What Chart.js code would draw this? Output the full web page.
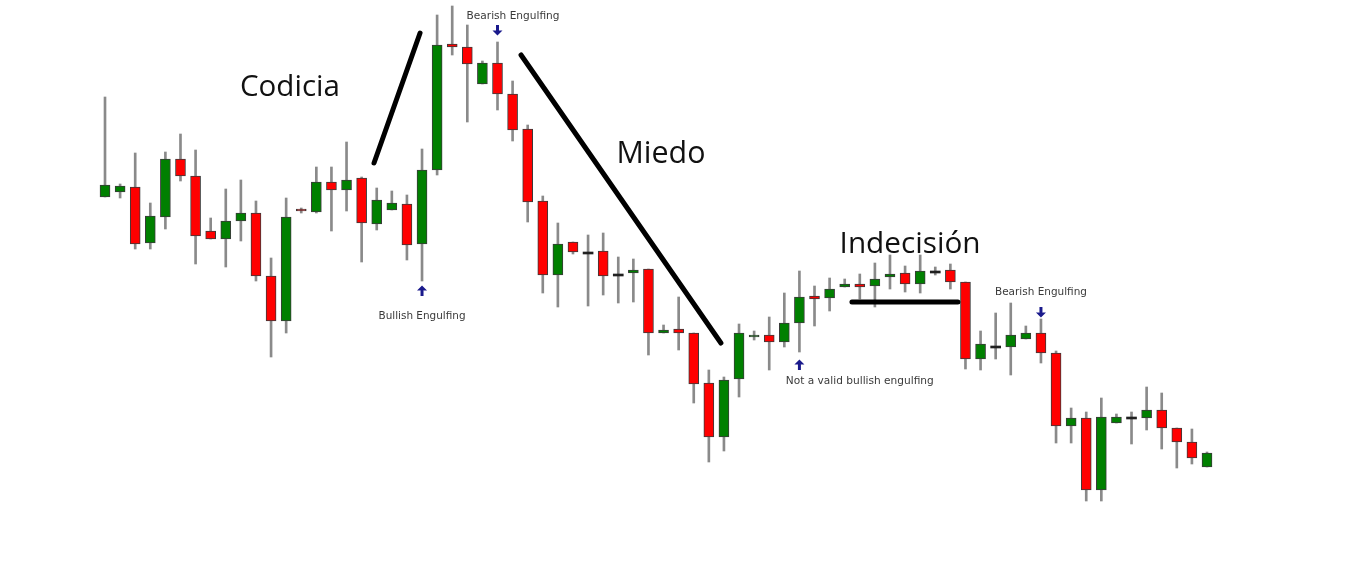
<!DOCTYPE html>
<html>
<head>
<meta charset="utf-8">
<script src="https://cdn.jsdelivr.net/npm/chart.js@4"></script>
<style>
  html, body { margin: 0; padding: 0; background: #ffffff; }
  #wrap { width: 1352px; height: 571px; }
</style>
</head>
<body>
<div id="wrap"><canvas id="c" width="1352" height="571"></canvas></div>
<script>
// ---- data (price units) ----
const opens  = [323,328,333,277,303,361,344,289,281,299,307,244,199,311,308,338,330,342,296,310,316,276,350,476,473,436,457,426,391,319,245,278,268,269,246,247,251,187,191,187,137,83,141,183,185,178,197,224,222,233,236,234,243,247,236,249,250,238,161,174,173,181,187,167,94,102,30,97,103,102,110,92,78,53];
const highs  = [423,336,367,317,368,386,370,302,331,340,319,262,322,312,353,353,378,343,332,329,325,371,505,514,495,459,478,439,395,324,297,278,285,287,263,261,251,195,223,187,150,143,196,189,203,227,249,234,242,241,246,257,265,254,265,253,256,238,189,207,217,194,201,169,112,108,122,106,108,133,127,92,91,68];
const lows   = [323,322,271,271,291,339,256,281,253,279,239,163,187,307,307,289,309,258,290,310,260,239,345,465,398,436,410,379,298,227,213,266,214,225,217,218,165,187,170,117,58,69,123,180,150,173,168,194,209,233,221,213,231,228,227,245,231,151,150,161,145,181,157,77,77,19,19,97,76,90,71,52,56,53];
const closes = [335,334,276,304,361,344,284,281,299,307,244,199,303,309,338,330,340,297,320,317,275,350,475,473,456,457,426,390,318,245,276,268,268,244,246,250,187,190,187,136,83,140,187,185,178,197,223,221,231,236,233,241,246,236,249,249,238,161,176,174,185,187,167,94,102,30,103,103,103,110,92,78,62,67];
const candleIndex = opens.map((_, i) => i);

// trend strokes drawn on the chart (candle index, price)
const greedLine = [{x: 17.82, y: 357}, {x: 20.87, y: 487}];
const fearLine  = [{x: 27.56, y: 465}, {x: 40.8, y: 177}];
const rangeLine = [{x: 49.48, y: 218}, {x: 56.5, y: 218}];

// text annotations (candle index, price)
const bigLabels = [
  {text: 'Codicia',    i: 12.25, v: 432, w: 100},
  {text: 'Miedo',      i: 36.83, v: 366, w: 89},
  {text: 'Indecisión', i: 53.33, v: 275, w: 141}
];
const smallLabels = [
  {text: 'Bullish Engulfing',             i: 21.0,  v: 204, w: 87},
  {text: 'Bearish Engulfing',             i: 27.03, v: 504, w: 93},
  {text: 'Bearish Engulfing',             i: 62.0,  v: 228, w: 92},
  {text: 'Not a valid bullish engulfing', i: 50.0,  v: 139, w: 148}
];
const arrows = [
  {i: 21, v: 229, dir: 'up'},
  {i: 26, v: 490, dir: 'down'},
  {i: 46, v: 155, dir: 'up'},
  {i: 62, v: 208, dir: 'down'}
];

// ---- build datasets ----
const GREEN = '#008000', RED = '#ff0000';
const bodyData = candleIndex.map(i => ({x: i, y: [opens[i], closes[i]]}));
const wickData = candleIndex.map(i => ({x: i, y: [lows[i], highs[i]]}));
const bodyColors = candleIndex.map(i => {
  const d = closes[i] - opens[i];
  if (Math.abs(d) < 0.5) return '#202020';
  return d > 0 ? GREEN : RED;
});
const bodyBorders = candleIndex.map(i => Math.abs(closes[i] - opens[i]) < 0.5 ? 0 : 1);

function fitFont(ctx, text, width, family, weight) {
  let size = 20;
  ctx.font = weight + ' ' + size + 'px ' + family;
  const m = ctx.measureText(text).width;
  size = size * width / m;
  return weight + ' ' + size.toFixed(2) + 'px ' + family;
}

const annotationPlugin = {
  id: 'annotations',
  afterDatasetsDraw(chart) {
    const ctx = chart.ctx;
    const xs = chart.scales.x, ys = chart.scales.y;
    ctx.save();
    ctx.textAlign = 'center';
    ctx.textBaseline = 'middle';
    bigLabels.forEach(l => {
      ctx.font = fitFont(ctx, l.text, l.w, '"Open Sans", sans-serif', '400');
      ctx.fillStyle = '#111111';
      ctx.fillText(l.text, xs.getPixelForValue(l.i), ys.getPixelForValue(l.v));
    });
    smallLabels.forEach(l => {
      ctx.font = fitFont(ctx, l.text, l.w, '"DejaVu Sans", sans-serif', '400');
      ctx.fillStyle = '#3a3a3a';
      ctx.fillText(l.text, xs.getPixelForValue(l.i), ys.getPixelForValue(l.v));
    });
    arrows.forEach(a => {
      const x = xs.getPixelForValue(a.i), y = ys.getPixelForValue(a.v);
      const s = a.dir === 'up' ? -1 : 1;
      ctx.fillStyle = '#1a1a8c';
      ctx.strokeStyle = '#1a1a8c';
      ctx.lineWidth = 3;
      ctx.beginPath();
      ctx.moveTo(x, y - s * 5);
      ctx.lineTo(x, y + s * 2);
      ctx.stroke();
      ctx.beginPath();
      ctx.moveTo(x, y + s * 5.5);
      ctx.lineTo(x - 5, y + s * 0.5);
      ctx.lineTo(x - 1.5, y + s * 0.5);
      ctx.lineTo(x, y + s * 2);
      ctx.lineTo(x + 1.5, y + s * 0.5);
      ctx.lineTo(x + 5, y + s * 0.5);
      ctx.closePath();
      ctx.fill();
    });
    ctx.restore();
  }
};

const lineDs = (data) => ({
  type: 'line', data, borderColor: '#000000', borderWidth: 5,
  pointRadius: 0, borderCapStyle: 'round', order: 0, tension: 0
});

new Chart(document.getElementById('c'), {
  type: 'bar',
  data: {
    datasets: [
      {
        label: 'Cuerpo', data: bodyData, backgroundColor: bodyColors,
        borderColor: '#3a3a3a', borderWidth: bodyBorders, borderSkipped: false,
        barThickness: 10, minBarLength: 2, grouped: false, order: 1
      },
      {
        label: 'Mecha', data: wickData, backgroundColor: '#8a8a8a',
        borderWidth: 0, barThickness: 2, grouped: false, order: 2
      },
      lineDs(greedLine),
      lineDs(fearLine),
      lineDs(rangeLine)
    ]
  },
  options: {
    responsive: false,
    animation: false,
    devicePixelRatio: 1,
    layout: {padding: 0},
    plugins: {legend: {display: false}, tooltip: {enabled: false}, title: {display: false}},
    scales: {
      x: {type: 'linear', display: false, offset: false, min: -6.956, max: 82.605},
      y: {type: 'linear', display: false, min: -51, max: 520}
    }
  },
  plugins: [annotationPlugin]
});
</script>
</body>
</html>
